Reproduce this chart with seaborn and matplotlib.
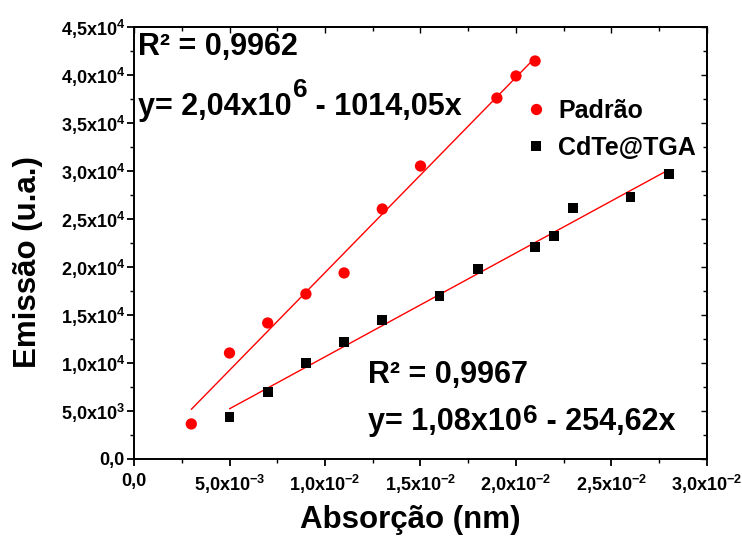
import numpy as np
import pandas as pd
import matplotlib
matplotlib.use("Agg")
import matplotlib.pyplot as plt
import seaborn as sns
from matplotlib.ticker import FixedLocator, AutoMinorLocator

sns.set_theme(style="ticks")
plt.rcParams['font.family'] = ['Liberation Sans', 'DejaVu Sans']
plt.rcParams['font.weight'] = 'bold'
plt.rcParams['mathtext.fontset'] = 'custom'
plt.rcParams['mathtext.rm'] = 'Liberation Sans:bold'
plt.rcParams['mathtext.bf'] = 'Liberation Sans:bold'
plt.rcParams['mathtext.it'] = 'Liberation Sans:bold'
for k in ['text.color', 'axes.labelcolor', 'xtick.color', 'ytick.color', 'axes.edgecolor']:
    plt.rcParams[k] = 'black'

# Data
padrao_x = [0.003, 0.005, 0.007, 0.009, 0.011, 0.013, 0.015, 0.019, 0.020, 0.021]
padrao_y = [3650, 11040, 14170, 17190, 19380, 26040, 30520, 37600, 39900, 41460]
cdte_x = [0.005, 0.007, 0.009, 0.011, 0.013, 0.016, 0.018, 0.021, 0.022, 0.023, 0.026, 0.028]
cdte_y = [4380, 6980, 10000, 12190, 14480, 16980, 19790, 22080, 23230, 26150, 27290, 29690]

x_ticks = [0.0, 0.005, 0.010, 0.015, 0.020, 0.025, 0.030]
x_labels = ["0,0", "5,0x10$^{-3}$", "1,0x10$^{-2}$", "1,5x10$^{-2}$", "2,0x10$^{-2}$",
            "2,5x10$^{-2}$", "3,0x10$^{-2}$"]
y_ticks = [0, 5000, 10000, 15000, 20000, 25000, 30000, 35000, 40000, 45000]
y_labels = ["0,0", "5,0x10$^{3}$", "1,0x10$^{4}$", "1,5x10$^{4}$", "2,0x10$^{4}$",
            "2,5x10$^{4}$", "3,0x10$^{4}$", "3,5x10$^{4}$", "4,0x10$^{4}$", "4,5x10$^{4}$"]

series_names = ["Padrão", "CdTe@TGA"]
r2_texts = ["R² = 0,9962", "R² = 0,9967"]
eq_parts = [("y= 2,04x10", "6", " - 1014,05x"), ("y= 1,08x10", "6", " - 254,62x")]

df = pd.concat([
    pd.DataFrame({"x": padrao_x, "y": padrao_y, "s": series_names[0]}),
    pd.DataFrame({"x": cdte_x, "y": cdte_y, "s": series_names[1]}),
])

fig = plt.figure(figsize=(7.42, 5.36), dpi=100)
ax = fig.add_axes([0.1806, 0.1437, 0.7722, 0.8059])

sns.scatterplot(data=df, x="x", y="y", hue="s", style="s", size="s",
                palette={series_names[0]: "#ff0000", series_names[1]: "#000000"},
                markers={series_names[0]: "o", series_names[1]: "s"},
                sizes={series_names[0]: 66, series_names[1]: 48},
                linewidth=0, ax=ax, zorder=3)

for xs, ys in [(padrao_x, padrao_y), (cdte_x, cdte_y)]:
    xs = np.array(xs); ys = np.array(ys)
    m, b = np.polyfit(xs, ys, 1)
    xx = np.array([xs.min(), xs.max()])
    ax.plot(xx, m * xx + b, color="#ff0000", lw=1, zorder=2)

ax.set_xlim(0, 0.030)
ax.set_ylim(0, 45000)
ax.xaxis.set_major_locator(FixedLocator(x_ticks))
ax.yaxis.set_major_locator(FixedLocator(y_ticks))
ax.set_xticklabels(x_labels, fontsize=13, fontweight='bold')
ax.set_yticklabels(y_labels, fontsize=13, fontweight='bold')
ax.xaxis.set_minor_locator(AutoMinorLocator(2))
ax.yaxis.set_minor_locator(AutoMinorLocator(2))
ax.tick_params(axis='both', which='major', direction='out', length=5, width=1.3,
               color='black')
ax.tick_params(axis='x', which='major', pad=5)
ax.tick_params(axis='y', which='major', pad=1.5)
ax.tick_params(axis='both', which='minor', direction='out', length=3, width=1,
               color='black')
ax.tick_params(axis='x', which='both', top=False)
ax.tick_params(axis='y', which='both', right=False)
sec_x = ax.secondary_xaxis('top')
sec_x.xaxis.set_major_locator(FixedLocator(x_ticks))
sec_x.xaxis.set_minor_locator(AutoMinorLocator(2))
sec_x.tick_params(which='major', direction='in', length=4, width=1, labeltop=False)
sec_x.tick_params(which='minor', direction='in', length=3, width=1)
sec_y = ax.secondary_yaxis('right')
sec_y.yaxis.set_major_locator(FixedLocator(y_ticks))
sec_y.yaxis.set_minor_locator(AutoMinorLocator(2))
sec_y.tick_params(which='major', direction='in', length=4, width=1, labelright=False)
sec_y.tick_params(which='minor', direction='in', length=3, width=1)
for a in (ax, sec_x, sec_y):
    for sp in a.spines.values():
        sp.set_color('black'); sp.set_linewidth(1.4)

ax.set_xlabel("Absorção (nm)", fontsize=22.5, fontweight='bold')
ax.set_ylabel("Emissão (u.a.)", fontsize=22.5, fontweight='bold')
ax.xaxis.set_label_coords(0.482, -0.106)
ax.yaxis.set_label_coords(-0.159, 0.456)

FS = 22
def equation(x, y, parts, raise_pt):
    pre, sup, post = parts
    t1 = ax.text(x, y, pre, fontsize=FS, fontweight='bold', va='baseline', ha='left')
    t2 = ax.annotate(sup, xy=(1, y), xycoords=(t1, 'data'), xytext=(1, raise_pt),
                     textcoords='offset points', fontsize=FS * 0.85,
                     fontweight='bold', va='baseline', ha='left')
    ax.annotate(post, xy=(1, y), xycoords=(t2, 'data'), xytext=(0, 0),
                textcoords='offset points', fontsize=FS, fontweight='bold',
                va='baseline', ha='left')

ax.text(0.0002, 42970, r2_texts[0], fontsize=FS, fontweight='bold', va='center')
equation(0.0002, 35830, eq_parts[0], 13)
ax.text(0.01225, 8800, r2_texts[1], fontsize=FS, fontweight='bold', va='center')
equation(0.01225, 3020, eq_parts[1], 5)

ax.legend(loc='upper left', bbox_to_anchor=(0.653, 0.856), frameon=False,
          prop={'size': 18, 'weight': 'bold'}, handletextpad=0.2,
          labelspacing=0.52, borderaxespad=0, handlelength=1.4)

fig.savefig("out.png", dpi=100, facecolor='white')
